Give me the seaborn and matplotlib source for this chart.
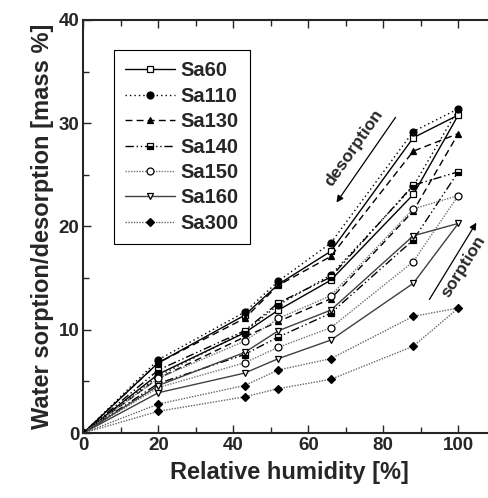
import matplotlib
matplotlib.use("Agg")
import matplotlib.pyplot as plt
import seaborn as sns
import pandas as pd

# ---- data ----
rh_sorption = [0, 20, 43, 52, 66, 88, 100]
rh_desorption = [88, 66, 52, 43, 20, 0]

series_names = ["Sa60", "Sa110", "Sa130", "Sa140", "Sa150", "Sa160", "Sa300"]

sorption = {
    "Sa60":  [0, 5.7, 9.7, 11.9, 14.8, 23.1, 30.8],
    "Sa110": [0, 5.5, 9.8, 12.4, 15.3, 23.9, 31.4],
    "Sa130": [0, 5.3, 9.3, 10.8, 13.0, 21.5, 29.0],
    "Sa140": [0, 4.8, 7.6, 9.3, 11.6, 18.7, 25.3],
    "Sa150": [0, 4.4, 6.8, 8.3, 10.2, 16.6, 23.0],
    "Sa160": [0, 3.9, 5.8, 7.2, 9.0, 14.5, 20.3],
    "Sa300": [0, 2.1, 3.5, 4.3, 5.2, 8.4, 12.1],
}
desorption = {
    "Sa60":  [28.6, 17.6, 14.4, 11.4, 6.8, 0],
    "Sa110": [29.2, 18.4, 14.7, 11.7, 7.1, 0],
    "Sa130": [27.3, 17.1, 14.3, 11.1, 6.8, 0],
    "Sa140": [24.0, 15.1, 12.6, 9.9, 6.1, 0],
    "Sa150": [21.7, 13.3, 11.1, 8.9, 5.3, 0],
    "Sa160": [19.1, 11.9, 9.9, 7.8, 4.6, 0],
    "Sa300": [11.3, 7.2, 6.1, 4.6, 2.8, 0],
}

x_ticks = [0, 20, 40, 60, 80, 100]
y_ticks = [0, 10, 20, 30, 40]

# ---- styles ----
styles = {
    "Sa60":  dict(color="black", ls="-", marker="s", mfc="white", fs="full"),
    "Sa110": dict(color="black", ls=(0, (1, 2.2)), marker="o", mfc="black", fs="full"),
    "Sa130": dict(color="black", ls=(0, (5, 3)), marker="^", mfc="black", fs="full"),
    "Sa140": dict(color="black", ls=(0, (6, 2, 1, 2, 1, 2)), marker="s", mfc="black", fs="bottom"),
    "Sa150": dict(color="0.45", ls=(0, (1, 1)), marker="o", mfc="white", fs="full"),
    "Sa160": dict(color="0.25", ls="-", marker="v", mfc="white", fs="full"),
    "Sa300": dict(color="0.4", ls=(0, (1, 1)), marker="D", mfc="black", fs="full"),
}

sns.set_style("ticks")
plt.rcParams["font.family"] = ["Liberation Sans", "DejaVu Sans"]
plt.rcParams["font.weight"] = "bold"
plt.rcParams["axes.labelweight"] = "bold"

fig = plt.figure(figsize=(4.88, 4.98), dpi=100)
ax = fig.add_axes([83.3 / 488, 1 - 433 / 498, 412.5 / 488, 413 / 498])

for name in series_names:
    xs = rh_sorption + rh_desorption
    ys = sorption[name] + desorption[name]
    df = pd.DataFrame({"rh": xs, "w": ys})
    st = styles[name]
    sns.lineplot(data=df, x="rh", y="w", sort=False, estimator=None, ax=ax,
                 color=st["color"], linestyle=st["ls"], linewidth=1.0,
                 marker=st["marker"], markersize=5 if st["marker"] != "D" else 4.5,
                 markerfacecolor=st["mfc"], markeredgecolor="black",
                 markerfacecoloralt="white", fillstyle=st["fs"],
                 markeredgewidth=0.9, label=name)

ax.set_xlim(0, 110)
ax.set_ylim(0, 40)
ax.set_xticks(x_ticks)
ax.set_yticks(y_ticks)
ax.set_xticks(range(10, 110, 20), minor=True)
ax.set_yticks(range(5, 40, 10), minor=True)
ax.tick_params(which="both", direction="in", top=True, right=False, width=1.0)
ax.tick_params(which="major", length=6, labelsize=13.5, pad=3)
ax.tick_params(which="minor", length=4)
for lab in ax.get_xticklabels() + ax.get_yticklabels():
    lab.set_fontweight("bold")
for sp in ["left", "bottom", "top"]:
    ax.spines[sp].set_linewidth(1.5)
ax.spines["right"].set_visible(False)

ax.set_xlabel("Relative humidity [%]", fontsize=17, fontweight="bold", labelpad=5)
ax.set_ylabel("Water sorption/desorption [mass %]", fontsize=17, fontweight="bold", labelpad=3)

handles, labels = ax.get_legend_handles_labels()
leg = ax.legend(handles, labels, loc="upper left", bbox_to_anchor=(0.0744, 0.927),
                borderaxespad=0, frameon=True, fancybox=False, edgecolor="black",
                framealpha=1, handlelength=2.5, handletextpad=0.25,
                labelspacing=0.32, borderpad=0.55,
                prop={"size": 14.5, "weight": "bold"})
leg.get_frame().set_linewidth(0.8)

# annotations
ax.annotate("", xy=(67.1, 22.1), xytext=(83.7, 30.8),
            arrowprops=dict(arrowstyle="-|>", color="black", lw=0.9, mutation_scale=10))
ax.text(72.2, 27.6, "desorption", rotation=55, fontsize=12.5, fontweight="bold",
        ha="center", va="center")
ax.annotate("", xy=(105.2, 20.6), xytext=(91.9, 12.7),
            arrowprops=dict(arrowstyle="-|>", color="black", lw=0.9, mutation_scale=10))
ax.text(101.5, 16.1, "sorption", rotation=58, fontsize=12.5, fontweight="bold",
        ha="center", va="center")

fig.savefig("out.png", dpi=100)
